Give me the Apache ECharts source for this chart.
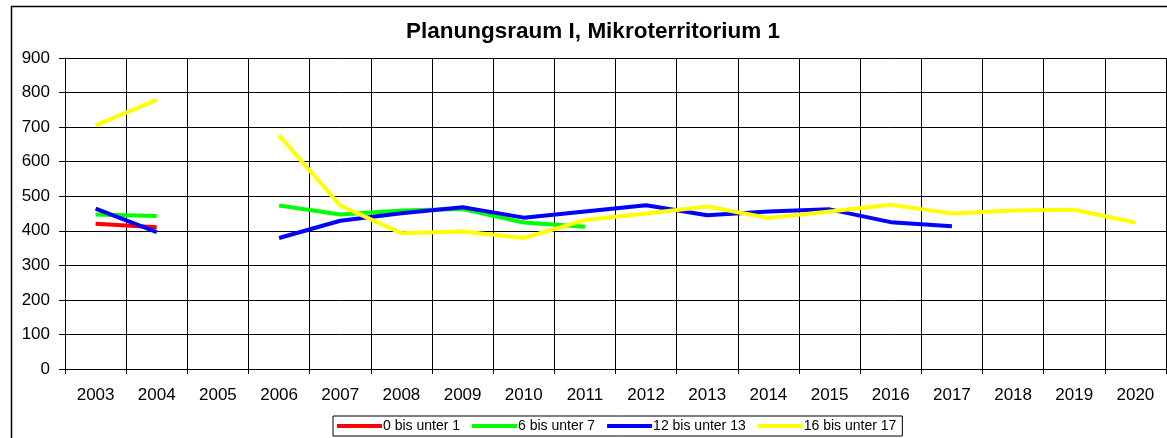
<!DOCTYPE html>
<html>
<head>
<meta charset="utf-8">
<title>Planungsraum I, Mikroterritorium 1</title>
<script src="https://cdn.jsdelivr.net/npm/echarts@6/dist/echarts.min.js"></script>
<style>
  html, body { margin: 0; padding: 0; background: #fff; }
  #chart { width: 1167px; height: 438px; }
</style>
</head>
<body>
<div id="chart"></div>
<script>
// Jahre (x-Achse)
var years = ['2003', '2004', '2005', '2006', '2007', '2008', '2009', '2010', '2011',
             '2012', '2013', '2014', '2015', '2016', '2017', '2018', '2019', '2020'];

// Werte je Altersgruppe, null = kein Wert
var age0to1   = [420, 410, null, null, null, null, null, null, null,
                 null, null, null, null, null, null, null, null, null];
var age6to7   = [447, 443, null, 473, 447, 459, 463, 424, 412,
                 null, null, null, null, null, null, null, null, null];
var age12to13 = [464, 396, null, 379, 429, 451, 468, 438, 456,
                 474, 445, 456, 462, 425, 413, null, null, null];
var age16to17 = [705, 779, null, 676, 473, 393, 398, 379, 431,
                 450, 470, 437, 456, 475, 450, 459, 461, 424];

var seriesNames = ['0 bis unter 1', '6 bis unter 7', '12 bis unter 13', '16 bis unter 17'];
var seriesColors = ['#ff0000', '#00ff00', '#0000ff', '#ffff00'];
var seriesData = [age0to1, age6to7, age12to13, age16to17];

var chart = echarts.init(document.getElementById('chart'));

var option = {
  animation: false,
  textStyle: { fontFamily: 'Liberation Sans, Arial, sans-serif' },
  title: {
    text: 'Planungsraum I, Mikroterritorium 1',
    left: 588,
    top: 15,
    textAlign: 'center',
    textStyle: { fontSize: 22.5, fontWeight: 'bold', color: '#000' }
  },
  // äußerer Rahmen
  graphic: [{
    type: 'rect',
    shape: { x: 11.5, y: 6.5, width: 1200, height: 500 },
    style: { fill: 'none', stroke: '#000', lineWidth: 1.5 },
    silent: true
  }],
  legend: {
    bottom: 2,
    left: 333,
    data: seriesNames,
    icon: 'rect',
    itemWidth: 45,
    itemHeight: 4,
    itemGap: 12,
    padding: [3, 6, 3, 4],
    borderColor: '#000',
    borderWidth: 1,
    textStyle: { fontSize: 14, color: '#000', padding: [0, 0, 0, -4] }
  },
  grid: { left: 65, right: 1, top: 58, bottom: 69 },
  xAxis: {
    type: 'category',
    data: years,
    boundaryGap: true,
    axisLine: { lineStyle: { color: '#000', width: 1 } },
    axisTick: { show: true, length: 5, lineStyle: { color: '#000' } },
    axisLabel: { fontSize: 17, color: '#000', margin: 18 },
    splitLine: { show: true, lineStyle: { color: '#000', width: 1 } }
  },
  yAxis: {
    type: 'value',
    min: 0,
    max: 900,
    interval: 100,
    axisLine: { show: true, lineStyle: { color: '#000', width: 1 } },
    axisTick: { show: true, length: 6, lineStyle: { color: '#000' } },
    axisLabel: { fontSize: 17, color: '#000', margin: 15 },
    splitLine: { show: true, lineStyle: { color: '#000', width: 1 } }
  },
  series: seriesNames.map(function (name, i) {
    return {
      name: name,
      type: 'line',
      data: seriesData[i],
      showSymbol: false,
      symbol: 'none',
      connectNulls: false,
      itemStyle: { color: seriesColors[i] },
      lineStyle: { color: seriesColors[i], width: 4 }
    };
  })
};

chart.setOption(option);
</script>
</body>
</html>
